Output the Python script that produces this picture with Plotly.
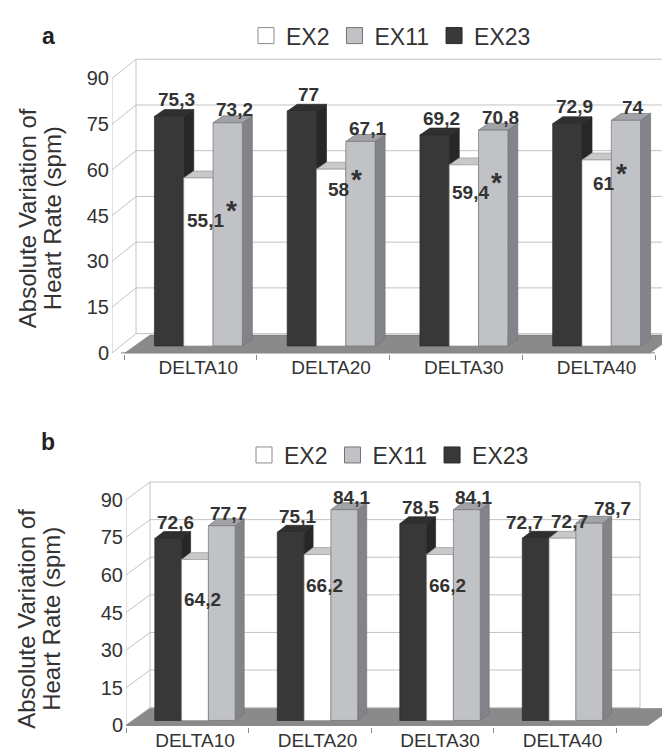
import plotly.graph_objects as go

# ---------------- data ----------------
categories = ["DELTA10", "DELTA20", "DELTA30", "DELTA40"]
y_ticks = [0, 15, 30, 45, 60, 75, 90]

a_ex2 = [55.1, 58.0, 59.4, 61.0]
a_ex11 = [73.2, 67.1, 70.8, 74.0]
a_ex23 = [75.3, 77.0, 69.2, 72.9]
a_ex2_significant = [True, True, True, True]

b_ex2 = [64.2, 66.2, 66.2, 72.7]
b_ex11 = [77.7, 84.1, 84.1, 78.7]
b_ex23 = [72.6, 75.1, 78.5, 72.7]
b_ex2_significant = [False, False, False, False]

# ---------------- styles / layout (pixels) ----------------
W, H = 670, 756
FONT = "Liberation Sans, Arial, sans-serif"
TXT = "#333333"

STYLE = {
    "EX23": dict(front="#383838", top="#2f2f2f", side="#272727", edge="#2a2a2a"),
    "EX2": dict(front="#ffffff", top="#c9c9c9", side="#d9d9d9", edge="#9a9a9a"),
    "EX11": dict(front="#c1c2c5", top="#a2a3a6", side="#838489", edge="#737479"),
}
BAR_ORDER = ["EX23", "EX2", "EX11"]
LEGEND_ORDER = ["EX2", "EX11", "EX23"]

GEO = {
    "a": dict(xa="x", ya="y", legend="legend", top=48, base=349.5, sy=3.09,
              left=104, cat0=182.4, pitch=132.75,
              wall_dx=24, wall_dy=19.5, wall_right=658,
              floor_left=117, floor_right=642, floor_dx=25, floor_dy=18,
              axis_left=113, bar_w=29.3, bar_fx=8, bar_fy=7, bar_dx=10, bar_dy=7,
              lab_dark=17, lab_gray=13, lab_dx=7,
              white_drop=[43, 21, 28, 24], dark_nudge=[0, 0, 0, 0],
              gray_nudge=[(0, 0), (0, 0), (0, 0), (0, 0)],
              title_y=213, letter_y=28, legend_y=28, legend_x=238),
    "b": dict(xa="x2", ya="y2", legend="legend2", top=476, base=727, sy=2.54,
              left=118, cat0=179.25, pitch=122.5,
              wall_dx=24, wall_dy=18, wall_right=632,
              floor_left=118, floor_right=640, floor_dx=24, floor_dy=17,
              axis_left=118, bar_w=26.8, bar_fx=7.75, bar_fy=5, bar_dx=9, bar_dy=7,
              lab_dark=16, lab_gray=12, lab_dx=7,
              white_drop=[41, 31, 31, -17], dark_nudge=[0, 0, 0, -18],
              gray_nudge=[(0, 0), (0, 0), (0, 0), (16, 3)],
              title_y=619, letter_y=440, legend_y=453, legend_x=236),
}

PANELS = {
    "a": dict(EX2=a_ex2, EX11=a_ex11, EX23=a_ex23, sig=a_ex2_significant),
    "b": dict(EX2=b_ex2, EX11=b_ex11, EX23=b_ex23, sig=b_ex2_significant),
}


def fmt(v):
    return f"{v:g}".replace(".", ",")


fig = go.Figure()
annotations = []
layout_axes = {}

for key, g in GEO.items():
    data = PANELS[key]
    xa, ya = g["xa"], g["ya"]

    def X(px):
        return (px - g["cat0"]) / g["pitch"]

    def ux(px):
        return px / g["pitch"]

    def uy(px):
        return px / g["sy"]

    top_val = y_ticks[-1]

    # ---- walls & gridlines ----
    fx = X(g["left"])
    wl = X(g["left"] + g["wall_dx"])
    wr = X(g["wall_right"])
    wdy = uy(g["wall_dy"])
    xs, ys = [], []
    for t in y_ticks:
        xs += [fx, wl, wr, None]
        ys += [t, t + wdy, t + wdy, None]
    xs += [fx, fx, None, wl, wl, None, wr, wr, None]
    ys += [0, top_val, None, wdy, top_val + wdy, None, wdy, top_val + wdy, None]
    fig.add_trace(go.Scatter(x=xs, y=ys, mode="lines", line=dict(color="#c2c2c2", width=1),
                             hoverinfo="skip", showlegend=False, xaxis=xa, yaxis=ya))

    # ---- floor ----
    fl, fr = X(g["floor_left"]), X(g["floor_right"])
    fdx, fdy = ux(g["floor_dx"]), uy(g["floor_dy"])
    fig.add_trace(go.Scatter(x=[fl, fr, fr + fdx, fl + fdx, fl], y=[0, 0, fdy, fdy, 0],
                             mode="lines", fill="toself", fillcolor="#8a8a8a",
                             line=dict(color="#7a7a7a", width=0.6),
                             hoverinfo="skip", showlegend=False, xaxis=xa, yaxis=ya))

    # ---- x axis line ----
    fig.add_trace(go.Scatter(x=[X(g["axis_left"]), len(categories) - 0.5], y=[0, 0], mode="lines",
                             line=dict(color="#8a8a8a", width=1),
                             hoverinfo="skip", showlegend=False, xaxis=xa, yaxis=ya))

    # ---- bars (3D faces) ----
    bw = ux(g["bar_w"])
    fxo, yb = ux(g["bar_fx"]), uy(g["bar_fy"])
    ddx, ddy = ux(g["bar_dx"]), uy(g["bar_dy"])
    nser = len(BAR_ORDER)
    for k, name in enumerate(BAR_ORDER):
        vals = data[name]
        st = STYLE[name]
        faces = {"side": ([], []), "top": ([], []), "front": ([], [])}
        for i, v in enumerate(vals):
            xl = i + fxo + (k - nser / 2) * bw
            xr = xl + bw
            yt = yb + v
            sx, sy_ = faces["side"]
            sx += [xr, xr + ddx, xr + ddx, xr, xr, None]
            sy_ += [yb, yb + ddy, yt + ddy, yt, yb, None]
            tx, ty = faces["top"]
            tx += [xl, xr, xr + ddx, xl + ddx, xl, None]
            ty += [yt, yt, yt + ddy, yt + ddy, yt, None]
            ffx, ffy = faces["front"]
            ffx += [xl, xr, xr, xl, xl, None]
            ffy += [yb, yb, yt, yt, yb, None]

            # value labels
            cx = (xl + xr) / 2 + ux(g["lab_dx"])
            if name == "EX2":
                ly = yt - uy(g["white_drop"][i])
            elif name == "EX23":
                ly = yt + uy(g["lab_dark"])
                cx += ux(g["dark_nudge"][i])
            else:
                ndx, ndy = g["gray_nudge"][i]
                ly = yt + uy(g["lab_gray"] + ndy)
                cx += ux(ndx)
            txt = fmt(v)
            annotations.append(dict(x=cx, y=ly, xref=xa, yref=ya, text=txt, showarrow=False,
                                    xanchor="center", yanchor="middle",
                                    font=dict(family=FONT, size=19, color=TXT, weight="bold")))
            if name == "EX2" and data["sig"][i]:
                halfw = sum(5.3 if c == "," else 10.6 for c in txt) / 2
                annotations.append(dict(x=cx + ux(halfw), y=ly + uy(10), xref=xa, yref=ya,
                                        text="*", showarrow=False, xanchor="left", yanchor="middle",
                                        font=dict(family=FONT, size=28, color=TXT, weight="bold")))
        for face in ["side", "top", "front"]:
            fxs, fys = faces[face]
            fig.add_trace(go.Scatter(x=fxs, y=fys, mode="lines", fill="toself",
                                     fillcolor=st[face], line=dict(color=st["edge"], width=0.7),
                                     hoverinfo="skip", showlegend=False, xaxis=xa, yaxis=ya))

    # ---- legend entries ----
    for name in LEGEND_ORDER:
        st = STYLE[name]
        fig.add_trace(go.Scatter(x=[None], y=[None], mode="markers", name=name,
                                 marker=dict(symbol="square", size=16, color=st["front"],
                                             line=dict(color="#8a8a8a" if name == "EX2" else st["edge"], width=1)),
                                 legend=g["legend"], showlegend=True, xaxis=xa, yaxis=ya))

    # ---- axes ----
    ymin = -1.5 / g["sy"]
    ymax = (g["base"] - g["top"]) / g["sy"]
    xnum = "" if xa == "x" else xa[1:]
    ynum = "" if ya == "y" else ya[1:]
    layout_axes["xaxis" + xnum] = dict(
        domain=[g["left"] / W, 1.0],
        range=[X(g["left"]), X(W)],
        tickmode="array", tickvals=[i + fxo for i in range(len(categories))], ticktext=categories,
        ticks="", showgrid=False, zeroline=False, showline=False,
        tickfont=dict(family=FONT, size=19, color=TXT),
        ticklabelstandoff=0,
        minor=dict(tickmode="array", tickvals=[i - 0.5 for i in range(len(categories) + 1)],
                   ticks="outside", ticklen=5, tickcolor="#8a8a8a", showgrid=False),
        anchor=ya, fixedrange=True,
    )
    layout_axes["yaxis" + ynum] = dict(
        domain=[1 - (g["base"] + 1.5) / H, 1 - g["top"] / H],
        range=[ymin, ymax],
        tickmode="array", tickvals=y_ticks, ticks="", showgrid=False, zeroline=False, showline=False,
        tickfont=dict(family=FONT, size=20, color=TXT),
        ticklabelstandoff=2,
        anchor=xa, fixedrange=True,
    )

    # ---- titles ----
    annotations.append(dict(x=40 / W, y=1 - g["letter_y"] / H, xref="paper", yref="paper",
                            text=key, showarrow=False, xanchor="center", yanchor="middle",
                            font=dict(family=FONT, size=23, color="#222222", weight="bold")))
    annotations.append(dict(x=19 / W, y=1 - g["title_y"] / H, xref="paper", yref="paper",
                            text="Absolute Variation of", textangle=-90, showarrow=False,
                            xanchor="center", yanchor="middle",
                            font=dict(family=FONT, size=24, color=TXT)))
    annotations.append(dict(x=44 / W, y=1 - g["title_y"] / H, xref="paper", yref="paper",
                            text="Heart Rate (spm)", textangle=-90, showarrow=False,
                            xanchor="center", yanchor="middle",
                            font=dict(family=FONT, size=24, color=TXT)))

legend_common = dict(orientation="h", xanchor="left", yanchor="middle",
                     font=dict(family=FONT, size=23, color=TXT), bgcolor="rgba(0,0,0,0)",
                     itemsizing="trace", traceorder="normal", borderwidth=0)

fig.update_layout(
    width=W, height=H, autosize=False,
    margin=dict(l=0, r=0, t=0, b=0),
    paper_bgcolor="white", plot_bgcolor="white",
    showlegend=True,
    legend=dict(x=GEO["a"]["legend_x"] / W, y=1 - GEO["a"]["legend_y"] / H, **legend_common),
    legend2=dict(x=GEO["b"]["legend_x"] / W, y=1 - GEO["b"]["legend_y"] / H, **legend_common),
    annotations=annotations,
    hovermode=False,
    **layout_axes,
)

fig.write_html("out.html")
